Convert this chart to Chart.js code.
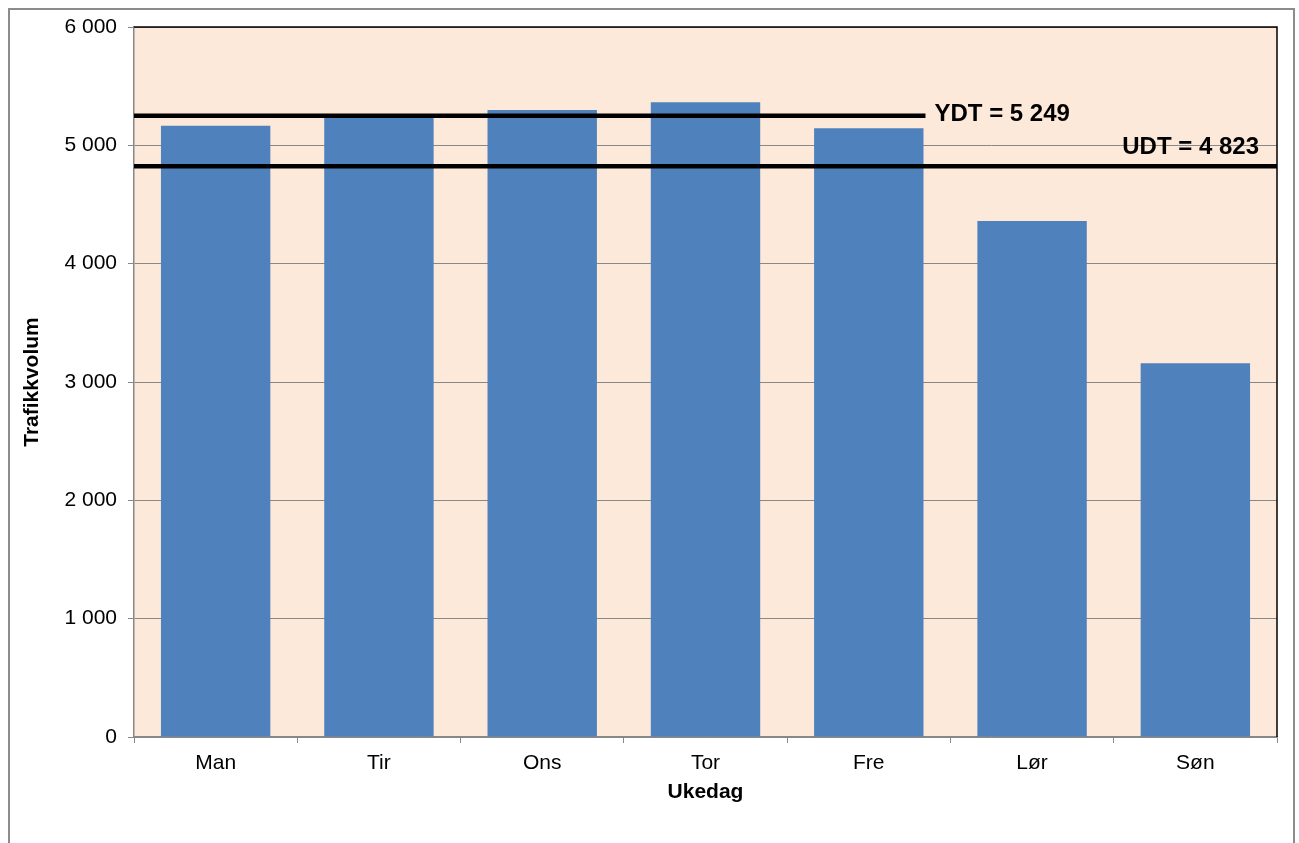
<!DOCTYPE html>
<html>
<head>
<meta charset="utf-8">
<script src="https://cdn.jsdelivr.net/npm/chart.js@4"></script>
<style>
  html, body { margin: 0; padding: 0; background: #fff; overflow: hidden; }
  #wrap { position: relative; width: 1299px; height: 843px; }
  #frame { position: absolute; left: 8px; top: 8px; width: 1283px; height: 860px; border: 2px solid #8c8c8c; }
  canvas { position: absolute; left: 0; top: 0; }
</style>
</head>
<body>
<div id="wrap">
  <div id="frame"></div>
  <canvas id="chart" width="1299" height="843"></canvas>
</div>
<script>
const days = ['Man', 'Tir', 'Ons', 'Tor', 'Fre', 'Lør', 'Søn'];
const volumes = [5166, 5265, 5299, 5364, 5144, 4361, 3158];
const yTicks = [0, 1000, 2000, 3000, 4000, 5000, 6000];
const ydt = 5249;   // yrkesdøgntrafikk (man-fre)
const udt = 4823;   // ukedøgntrafikk

const fmt = v => String(v).replace(/\B(?=(\d{3})+(?!\d))/g, ' ');

const FONT = "'Liberation Sans', Arial, sans-serif";
const GRID = '#888888';

// plot background plus black top/right frame
const plotFrame = {
  id: 'plotFrame',
  beforeDraw(chart) {
    const { ctx, chartArea: a } = chart;
    ctx.save();
    ctx.fillStyle = '#fde9d9';
    ctx.fillRect(a.left, a.top, a.right - a.left, a.bottom - a.top);
    ctx.restore();
  },
  afterDraw(chart) {
    const { ctx, chartArea: a } = chart;
    ctx.save();
    ctx.strokeStyle = '#000';
    ctx.lineWidth = 1.5;
    ctx.beginPath();
    ctx.moveTo(a.left, a.top);
    ctx.lineTo(a.right, a.top);
    ctx.lineTo(a.right, a.bottom);
    ctx.stroke();
    ctx.restore();
  }
};

// YDT / UDT reference lines with labels
const refLines = {
  id: 'refLines',
  afterDatasetsDraw(chart) {
    const { ctx, chartArea: a, scales: { x, y } } = chart;
    const catW = (a.right - a.left) / days.length;
    const fre = days.indexOf('Fre');
    const ydtEnd = x.getPixelForValue(fre) + catW * 0.67 / 2 + 2;
    const yY = y.getPixelForValue(ydt);
    const yU = y.getPixelForValue(udt);

    ctx.save();
    ctx.strokeStyle = '#000';
    ctx.lineWidth = 4.5;
    ctx.beginPath();
    ctx.moveTo(a.left, yY);
    ctx.lineTo(ydtEnd, yY);
    ctx.moveTo(a.left, yU);
    ctx.lineTo(a.right, yU);
    ctx.stroke();

    ctx.fillStyle = '#000';
    ctx.font = 'bold 24px ' + FONT;
    ctx.textBaseline = 'alphabetic';
    ctx.textAlign = 'left';
    ctx.fillText('YDT = ' + fmt(ydt), ydtEnd + 9, yY + 5);
    ctx.textAlign = 'right';
    ctx.fillText('UDT = ' + fmt(udt), a.right - 18, yU - 12);
    ctx.restore();
  }
};

new Chart(document.getElementById('chart'), {
  type: 'bar',
  data: {
    labels: days,
    datasets: [{
      data: volumes,
      backgroundColor: '#4f81bd',
      barPercentage: 0.67,
      categoryPercentage: 1.0
    }]
  },
  options: {
    responsive: false,
    animation: false,
    layout: { padding: { left: 0, top: 27, right: 22, bottom: 0 } },
    plugins: { legend: { display: false }, tooltip: { enabled: false } },
    scales: {
      x: {
        afterFit(s) { s.height = 106; },
        grid: { display: true, drawOnChartArea: false, offset: true, tickLength: 6, color: GRID },
        border: { color: GRID, width: 1.5 },
        ticks: { color: '#000', padding: 8, font: { family: FONT, size: 21 } },
        title: {
          display: true, text: 'Ukedag', color: '#000',
          font: { family: FONT, size: 21, weight: 'bold' },
          padding: { top: 0, bottom: 38 }
        }
      },
      y: {
        min: 0, max: 6000,
        afterFit(s) { s.width = 134; },
        afterBuildTicks(s) { s.ticks = yTicks.map(v => ({ value: v })); },
        grid: { color: GRID, lineWidth: 1, tickLength: 6 },
        border: { color: GRID, width: 1.5 },
        ticks: { color: '#000', padding: 11, font: { family: FONT, size: 21 }, callback: v => fmt(v) },
        title: {
          display: true, text: 'Trafikkvolum', color: '#000',
          font: { family: FONT, size: 21, weight: 'bold' },
          padding: { top: 20, bottom: 0 }
        }
      }
    }
  },
  plugins: [plotFrame, refLines]
});
</script>
</body>
</html>
